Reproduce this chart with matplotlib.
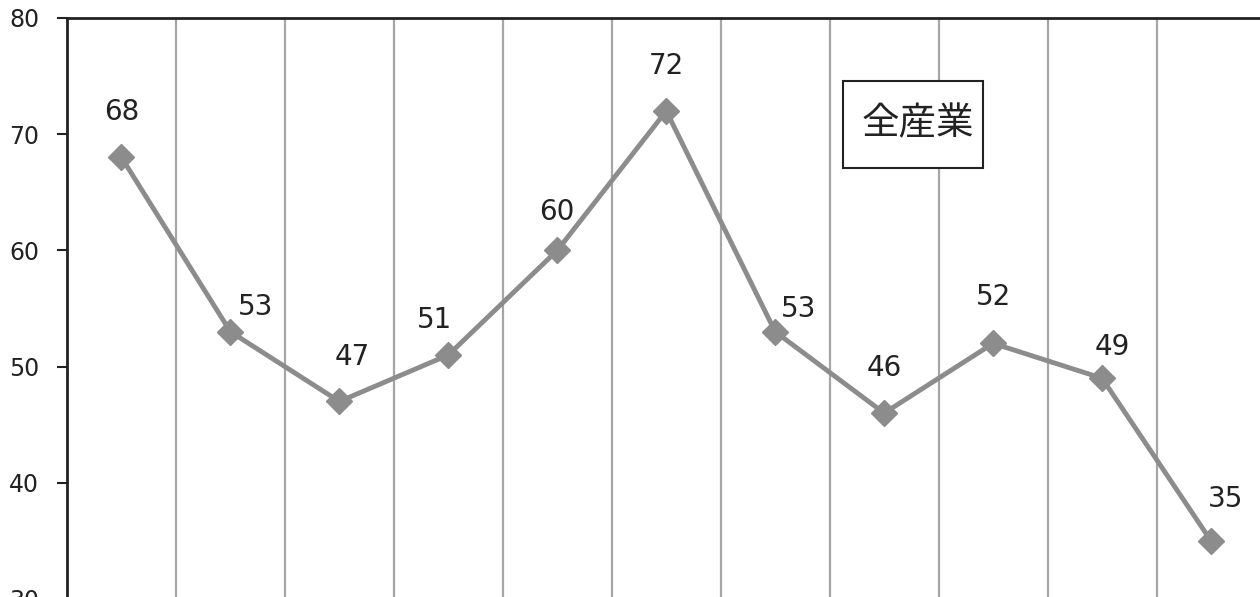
import matplotlib
matplotlib.use("Agg")
import matplotlib.pyplot as plt
from matplotlib.patches import Rectangle

plt.rcParams['font.family'] = ['DejaVu Sans', 'Noto Sans CJK JP']

values = [68, 53, 47, 51, 60, 72, 53, 46, 52, 49, 35]
y_ticks = [30, 40, 50, 60, 70, 80]
box_label = '全産業'

# hand-placed label offsets (pixels), like the original chart
label_offsets = [(0, 45), (25, 25), (13, 44), (-14, 35), (0, 38), (0, 45),
                 (23, 23), (0, 45), (0, 46), (10, 31), (15, 42)]

W, H = 1260, 597
fig = plt.figure(figsize=(W / 100, H / 100), dpi=100)
ax = fig.add_axes([67 / W, -2 / H, (1265.5 - 67) / W, (599 - 18) / H])

x = list(range(len(values)))
ax.set_xlim(-0.5, len(values) - 0.5)
ax.set_ylim(30, 80)

for b in range(1, len(values)):
    ax.axvline(b - 0.5, color='#a6a6a6', lw=1.6, zorder=1)

ax.plot(x, values, color='#8c8c8c', lw=3.5, marker='D', markersize=13,
        markeredgecolor='#8c8c8c', markerfacecolor='#8c8c8c', zorder=3,
        clip_on=False)

for xi, v, (dx, dy) in zip(x, values, label_offsets):
    ax.annotate(str(v), (xi, v), xytext=(dx * 0.72, dy * 0.72),
                textcoords='offset points', ha='center', va='center',
                fontsize=20, color='#222222')

# boxed legend-like label
ax.add_patch(Rectangle((0.6475, 0.7418), 0.7643 - 0.6475, 0.8916 - 0.7418,
                       transform=ax.transAxes, fc='white', ec='#222222',
                       lw=1.5, zorder=4))
ax.text(0.7096, 0.8176, box_label, transform=ax.transAxes, fontsize=27,
        family=['Noto Sans CJK JP'], ha='center', va='center',
        color='#222222', zorder=5)

ax.set_yticks(y_ticks)
ax.set_xticks([])
ax.tick_params(axis='y', length=7, width=1.5, labelsize=17,
               colors='#222222', pad=13)
for s in ['bottom', 'right']:
    ax.spines[s].set_visible(False)
ax.spines['left'].set_linewidth(2)
ax.spines['left'].set_color('#222222')
ax.spines['top'].set_linewidth(2)
ax.spines['top'].set_color('#222222')

fig.savefig('out.png', dpi=100)
